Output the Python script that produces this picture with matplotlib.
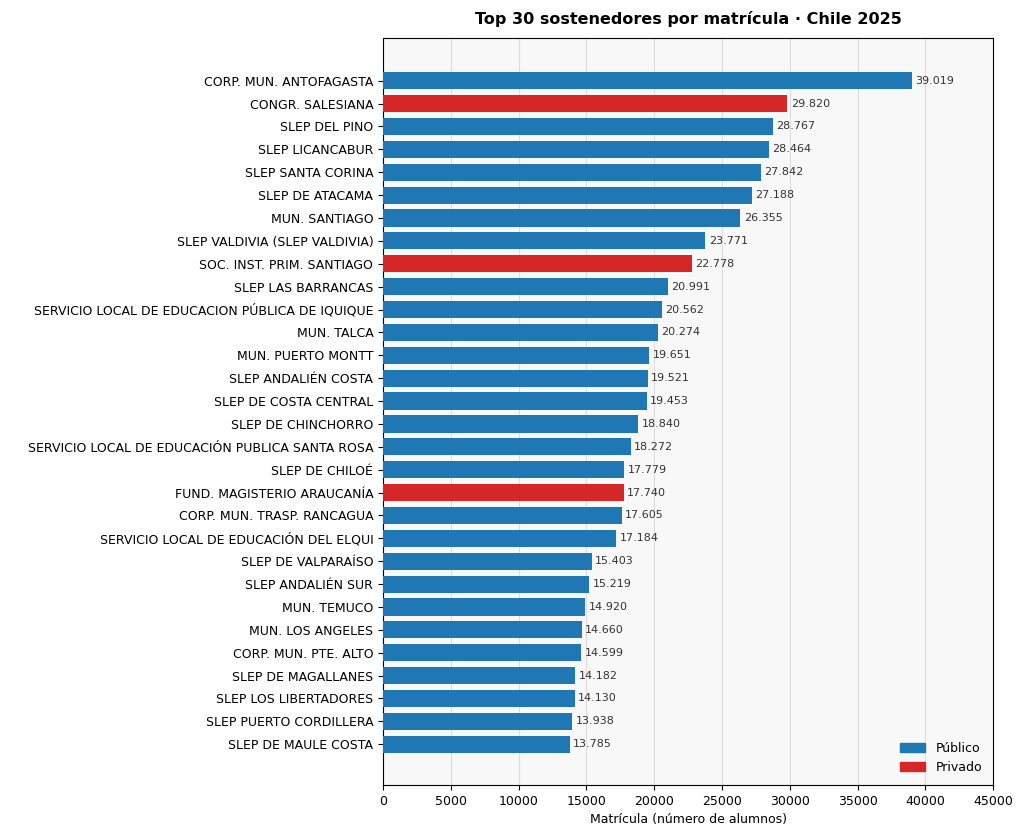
import matplotlib
matplotlib.use("Agg")
import matplotlib.pyplot as plt
from matplotlib.patches import Patch

names = ["CORP. MUN. ANTOFAGASTA","CONGR. SALESIANA","SLEP DEL PINO","SLEP LICANCABUR","SLEP SANTA CORINA",
"SLEP DE ATACAMA","MUN. SANTIAGO","SLEP VALDIVIA (SLEP VALDIVIA)","SOC. INST. PRIM. SANTIAGO","SLEP LAS BARRANCAS",
"SERVICIO LOCAL DE EDUCACION PÚBLICA DE IQUIQUE","MUN. TALCA","MUN. PUERTO MONTT","SLEP ANDALIÉN COSTA",
"SLEP DE COSTA CENTRAL","SLEP DE CHINCHORRO","SERVICIO LOCAL DE EDUCACIÓN PUBLICA SANTA ROSA","SLEP DE CHILOÉ",
"FUND. MAGISTERIO ARAUCANÍA","CORP. MUN. TRASP. RANCAGUA","SERVICIO LOCAL DE EDUCACIÓN DEL ELQUI","SLEP DE VALPARAÍSO",
"SLEP ANDALIÉN SUR","MUN. TEMUCO","MUN. LOS ANGELES","CORP. MUN. PTE. ALTO","SLEP DE MAGALLANES",
"SLEP LOS LIBERTADORES","SLEP PUERTO CORDILLERA","SLEP DE MAULE COSTA"]
values = [39019,29820,28767,28464,27842,27188,26355,23771,22778,20991,20562,20274,19651,19521,19453,18840,18272,
17779,17740,17605,17184,15403,15219,14920,14660,14599,14182,14130,13938,13785]
tipo = ["Público"]*30
for i in (1,8,18):
    tipo[i] = "Privado"
colors = {"Público":"#1f77b4","Privado":"#d62728"}

fig = plt.figure(figsize=(10.24,8.38), dpi=100)
ax = fig.add_axes([0.374,0.063,0.596,0.892])
ax.set_facecolor("#f8f8f8")
y = list(range(len(names)))
ax.barh(y, values, color=[colors[t] for t in tipo], height=0.75, zorder=3)
for yi, v in zip(y, values):
    ax.text(v+250, yi, f"{v:,}".replace(",", "."), va="center", ha="left", fontsize=8, color="#333333", zorder=4)
ax.set_yticks(y)
ax.set_yticklabels(names, fontsize=9)
ax.set_ylim(30.79, -1.88)
ax.set_xlim(0,45000)
ax.set_xticks(range(0,45001,5000))
ax.tick_params(axis="x", labelsize=9)
ax.grid(axis="x", color="#dddddd", linewidth=0.8, zorder=0)
ax.set_xlabel("Matrícula (número de alumnos)", fontsize=9)
ax.set_title("Top 30 sostenedores por matrícula · Chile 2025", fontsize=11.5, fontweight="bold", pad=10)
ax.legend(handles=[Patch(color=colors["Público"], label="Público"), Patch(color=colors["Privado"], label="Privado")],
          loc="lower right", frameon=False, fontsize=9)
fig.savefig("out.png", dpi=100)
